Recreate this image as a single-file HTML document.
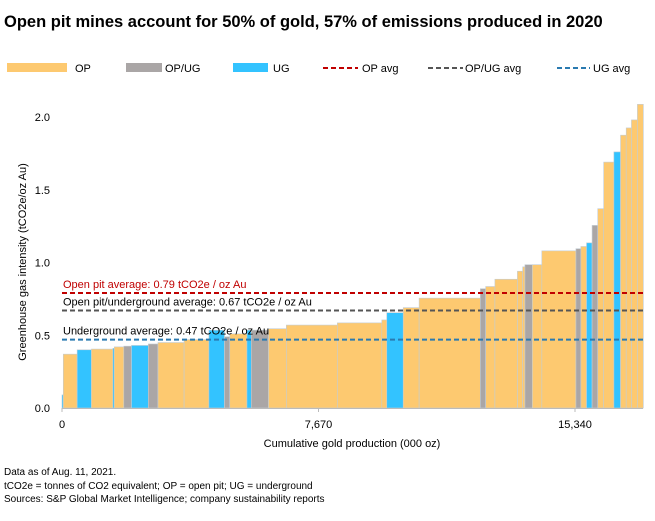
<!DOCTYPE html>
<html><head><meta charset="utf-8"><style>
body{margin:0;background:#fff;font-family:"Liberation Sans",sans-serif;}
svg text{font-family:"Liberation Sans",sans-serif;}
</style></head><body>
<svg id="chart" width="655" height="516" xmlns="http://www.w3.org/2000/svg">
<text x="4" y="27" font-size="16.5" font-weight="bold" fill="#000">Open pit mines account for 50% of gold, 57% of emissions produced in 2020</text>
<g>
<rect x="7" y="63" width="60" height="9" fill="#fdc970"/>
<text x="75" y="72" font-size="11">OP</text>
<rect x="126" y="63" width="36" height="9" fill="#aaa6a6"/>
<text x="165" y="72" font-size="11">OP/UG</text>
<rect x="233" y="63" width="35" height="9" fill="#33c3ff"/>
<text x="273" y="72" font-size="11">UG</text>
<line x1="323" y1="68" x2="358" y2="68" stroke="#c00000" stroke-width="2" stroke-dasharray="5,3"/>
<text x="362" y="72" font-size="11">OP avg</text>
<line x1="428" y1="68" x2="463" y2="68" stroke="#555" stroke-width="2" stroke-dasharray="5,3"/>
<text x="465" y="72" font-size="11">OP/UG avg</text>
<line x1="557" y1="68" x2="590" y2="68" stroke="#2a7ab0" stroke-width="2" stroke-dasharray="5,3"/>
<text x="593" y="72" font-size="11">UG avg</text>
</g>
<g id="bars"></g>
<g id="axes"></g>
<text transform="translate(26,262) rotate(-90)" text-anchor="middle" font-size="11">Greenhouse gas intensity (tCO2e/oz Au)</text>
<text x="352" y="447" text-anchor="middle" font-size="11">Cumulative gold production (000 oz)</text>
<text x="4" y="475" font-size="10">Data as of Aug. 11, 2021.</text>
<text x="4" y="489" font-size="10">tCO2e = tonnes of CO2 equivalent; OP = open pit; UG = underground</text>
<text x="4" y="502" font-size="10">Sources: S&amp;P Global Market Intelligence; company sustainability reports</text>
</svg>
<script>
const types=["UG","OP","UG","OP","UG","OP","OPUG","UG","OPUG","OP","OP","UG","OPUG","OP","UG","OPUG","OP","OP","OP","OP","UG","OP","OP","OPUG","OP","OP","OP","OP","OPUG","OP","OP","OPUG","OP","UG","OPUG","OP","OP","UG","OP","OP","OP","OP"];
const widths=[38,415,427,641,42,285,229,505,288,781,742,466,157,514,130,514,534,1525,1330,148,493,475,1830,160,276,673,157,68,220,285,1020,148,169,166,169,178,305,199,169,157,178,178];
const intensity=[0.09,0.37,0.40,0.405,0.41,0.42,0.425,0.43,0.44,0.45,0.47,0.535,0.49,0.51,0.535,0.535,0.545,0.57,0.585,0.605,0.655,0.69,0.755,0.82,0.835,0.885,0.94,0.97,0.985,0.985,1.08,1.095,1.11,1.135,1.255,1.37,1.69,1.76,1.875,1.925,1.98,2.087];
const averages=[0.79,0.67,0.47];
const avgLabels=["Open pit average: 0.79 tCO2e / oz Au","Open pit/underground average: 0.67 tCO2e / oz Au","Underground average: 0.47 tCO2e / oz Au"];
const yTicks=[0,0.5,1.0,1.5,2.0];
const yTickLabels=["0.0","0.5","1.0","1.5","2.0"];
const xTicks=[0,7670,15340];
const xTickLabels=["0","7,670","15,340"];

const NS="http://www.w3.org/2000/svg";
const X0=62,PXPER=513/15340,Y0=408,YPX=145.5;
const xs=v=>X0+v*PXPER, ys=v=>Y0-v*YPX;
const colors={OP:"#fdc970",OPUG:"#aaa6a6",UG:"#33c3ff"};
function mk(tag,attrs,parent){const e=document.createElementNS(NS,tag);for(const k in attrs)e.setAttribute(k,attrs[k]);parent.appendChild(e);return e;}
const bars=document.getElementById("bars"),axes=document.getElementById("axes");
let cum=0;
for(let i=0;i<widths.length;i++){
  const x1=xs(cum),x2=xs(cum+widths[i]);cum+=widths[i];
  const r=mk("rect",{x:x1,y:ys(intensity[i]),width:x2-x1,height:Y0-ys(intensity[i]),fill:colors[types[i]],stroke:"#c3cdd4","stroke-width":0.6},bars);
  
  
}
const avgColors=["#c00000","#555555","#2a7ab0"],labelColors=["#c00000","#000","#000"];
for(let i=0;i<averages.length;i++){
  const l=mk("line",{x1:X0,x2:643,y1:ys(averages[i]),y2:ys(averages[i]),stroke:avgColors[i],"stroke-width":2,"stroke-dasharray":"5,3"},axes);
  
  
  const t=mk("text",{x:63,y:ys(averages[i])-5,"font-size":11,fill:labelColors[i]},axes);
  t.textContent=avgLabels[i];
  
  
}
const ax=mk("line",{x1:X0,x2:643,y1:Y0+0.5,y2:Y0+0.5,stroke:"#bbb","stroke-width":1},axes);


for(let i=0;i<yTicks.length;i++){
  const t=mk("text",{x:50,y:ys(yTicks[i])+4,"text-anchor":"end","font-size":11},axes);
  t.textContent=yTickLabels[i];
  
  
}
for(let i=0;i<xTicks.length;i++){
  const tk=mk("line",{x1:xs(xTicks[i]),x2:xs(xTicks[i]),y1:Y0,y2:Y0+4,stroke:"#bbb"},axes);
  
  
  const t=mk("text",{x:xs(xTicks[i]),y:428,"text-anchor":"middle","font-size":11},axes);
  t.textContent=xTickLabels[i];
  
  
}
</script>
</body></html>
